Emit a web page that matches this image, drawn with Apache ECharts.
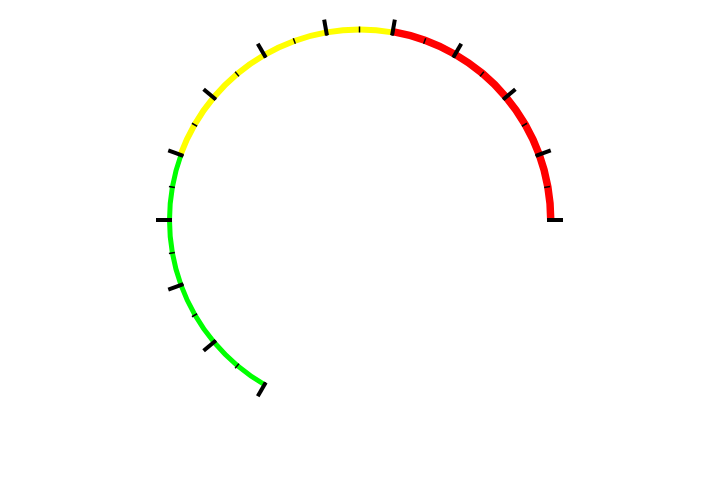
<!DOCTYPE html>
<html>
<head>
<meta charset="utf-8">
<style>html,body{margin:0;padding:0;background:#fff;}#c{width:721px;height:480px;}</style>
<script src="https://cdn.jsdelivr.net/npm/echarts@6/dist/echarts.min.js"></script>
</head>
<body>
<div id="c"></div>
<script>
// Gauge scale
const axisMin = 0;
const axisMax = 120;
const majorDivisions = 12;
const minorPerMajor = 2;
// Colour bands: end fraction of each band and its colour
const bandEnds = [1 / 3, 2 / 3, 1];
const bandColors = ['#00ff00', '#ffff00', '#ff0000'];

const chart = echarts.init(document.getElementById('c'));
const cx = 359.5, cy = 220;
const innerR = 187.5;
const bandWidths = [5, 6, 7.5];
const T = 'rgba(0,0,0,0)';

function bandStops(i) {
  const stops = [];
  const start = i === 0 ? 0 : bandEnds[i - 1];
  if (start > 0) stops.push([start, T]);
  stops.push([bandEnds[i], bandColors[i]]);
  if (bandEnds[i] < 1) stops.push([1, T]);
  return stops;
}

const base = {
  type: 'gauge',
  center: [cx, cy],
  startAngle: 240,
  endAngle: 0,
  min: axisMin,
  max: axisMax,
  splitNumber: majorDivisions,
  pointer: { show: false },
  anchor: { show: false },
  title: { show: false },
  detail: { show: false },
  axisLabel: { show: false },
  animation: false,
  data: []
};

const series = bandEnds.map((e, i) => Object.assign({}, base, {
  radius: innerR + bandWidths[i],
  axisLine: { show: true, lineStyle: { width: bandWidths[i], color: bandStops(i) } },
  axisTick: { show: false },
  splitLine: { show: false }
}));

series.push(Object.assign({}, base, {
  radius: innerR + 5,
  axisLine: { show: false, lineStyle: { width: 5 } },
  splitLine: { show: true, distance: 0, length: -16, lineStyle: { color: '#000', width: 4 } },
  axisTick: { show: true, splitNumber: minorPerMajor, distance: 0, length: -6, lineStyle: { color: '#000', width: 1.5 } }
}));

chart.setOption({ backgroundColor: '#fff', series: series });
</script>
</body>
</html>
